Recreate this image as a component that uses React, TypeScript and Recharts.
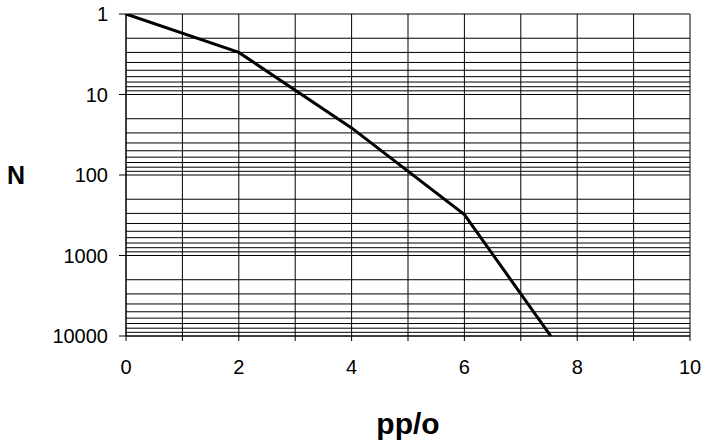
import { CartesianGrid, Line, LineChart, ReferenceLine, XAxis, YAxis } from 'recharts'

const ppo = [0, 2, 4, 6, 8]
const counts = [1, 3, 26, 310, 29000]

const xTicks = [0, 1, 2, 3, 4, 5, 6, 7, 8, 9, 10]
const yTicks = [1, 10, 100, 1000, 10000]
const yTickLabels = ['1', '10', '100', '1000', '10000']

// log minor grid lines: 1..9 x 10^k
const gridMantissas = [1, 2, 3, 4, 5, 6, 7, 8, 9]
const gridDecades = [1, 10, 100, 1000]

const series = ppo.map((x, i) => ({ x, n: counts[i] }))
const gridValues = [...gridDecades.flatMap((d) => gridMantissas.map((m) => m * d)), 10000]

const font = '"Liberation Sans", Arial, sans-serif'

/** Log-scale N against pp/o, axis runs downward from 1 to 10000. */
function App() {
  return (
    <div style={{ position: 'absolute', left: 0, top: 0, width: 704, height: 442, background: '#fff' }}>
      <LineChart
        width={704}
        height={442}
        data={series}
        margin={{ top: 14, right: 14, left: 0, bottom: 0 }}
        style={{ fontFamily: font }}
      >
        <CartesianGrid horizontal={false} stroke="#000" strokeWidth={1} />
        {gridValues.map((v) => (
          <ReferenceLine key={v} y={v} stroke="#000" strokeWidth={1} />
        ))}
        <XAxis
          dataKey="x"
          type="number"
          domain={[0, 10]}
          ticks={xTicks}
          tickFormatter={(v: number) => (v % 2 === 0 ? String(v) : '')}
          height={106}
          tickSize={5}
          tickMargin={19}
          stroke="#000"
          tick={{ fontSize: 20, fill: '#000' }}
          label={{
            value: 'pp/o',
            position: 'insideBottom',
            offset: 8,
            style: { fontSize: 30, fontWeight: 'bold', fill: '#000' },
          }}
        />
        <YAxis
          dataKey="n"
          scale="log"
          domain={[1, 10000]}
          allowDataOverflow
          reversed
          ticks={yTicks}
          tickFormatter={(v: number) => yTickLabels[yTicks.indexOf(v)] ?? String(v)}
          width={126}
          tickSize={7}
          tickMargin={11}
          stroke="#000"
          tick={{ fontSize: 20, fill: '#000' }}
          label={{
            value: 'N',
            position: 'insideLeft',
            offset: 7,
            style: { fontSize: 25, fontWeight: 'bold', fill: '#000', textAnchor: 'start' },
          }}
        />
        <Line
          dataKey="n"
          stroke="#000"
          strokeWidth={3}
          dot={false}
          isAnimationActive={false}
        />
      </LineChart>
    </div>
  )
}

export default App
